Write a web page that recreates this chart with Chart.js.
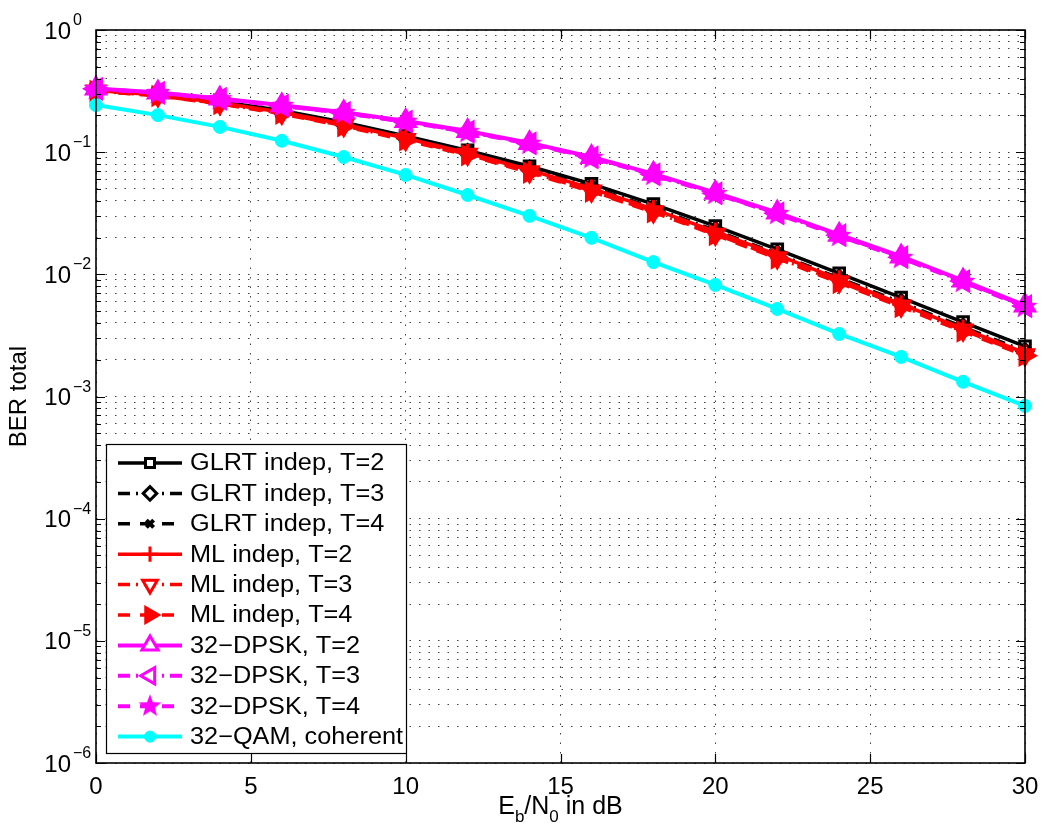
<!DOCTYPE html>
<html>
<head>
<meta charset="utf-8">
<script src="https://cdn.jsdelivr.net/npm/chart.js@4"></script>
<style>
  body { margin: 0; background: #fff; }
</style>
</head>
<body>
<canvas id="berChart" width="1050" height="838"></canvas>
<script>
// Eb/N0 points (dB)
const ebn0 = [0, 2, 4, 6, 8, 10, 12, 14, 16, 18, 20, 22, 24, 26, 28, 30];

// BER curves
const glrtT2 = [0.323, 0.299, 0.260, 0.219, 0.176, 0.136, 0.1035, 0.0767, 0.055, 0.0376, 0.0248, 0.016, 0.0102, 0.00646, 0.00407, 0.00257];
const glrtT3 = [0.320, 0.295, 0.255, 0.213, 0.170, 0.131, 0.099, 0.0725, 0.0515, 0.035, 0.0229, 0.0147, 0.0093, 0.0059, 0.0037, 0.00234];
const glrtT4 = [0.318, 0.292, 0.252, 0.210, 0.167, 0.128, 0.097, 0.0705, 0.0497, 0.0337, 0.022, 0.0141, 0.0089, 0.0056, 0.00355, 0.00224];
const mlT2 = [0.320, 0.294, 0.254, 0.212, 0.169, 0.130, 0.0985, 0.0715, 0.0505, 0.0342, 0.0224, 0.0144, 0.0091, 0.0057, 0.0036, 0.00228];
const mlT3 = [0.317, 0.290, 0.250, 0.208, 0.165, 0.127, 0.096, 0.069, 0.0482, 0.0326, 0.0213, 0.0137, 0.0087, 0.0055, 0.0035, 0.0022];
const mlT4 = [0.316, 0.288, 0.248, 0.206, 0.163, 0.125, 0.0945, 0.068, 0.0475, 0.0322, 0.021, 0.0135, 0.0085, 0.0054, 0.0034, 0.00216];
const dpskT2 = [0.332, 0.308, 0.275, 0.242, 0.212, 0.180, 0.149, 0.119, 0.0915, 0.0665, 0.0466, 0.032, 0.0211, 0.014, 0.0089, 0.00557];
const dpskT3 = [0.330, 0.306, 0.273, 0.240, 0.210, 0.178, 0.147, 0.118, 0.0905, 0.0658, 0.046, 0.0316, 0.0209, 0.0138, 0.0088, 0.0055];
const dpskT4 = [0.329, 0.305, 0.272, 0.239, 0.209, 0.177, 0.146, 0.117, 0.0897, 0.0651, 0.0455, 0.0312, 0.0206, 0.0136, 0.00867, 0.00541];
const qamCoherent = [0.243, 0.201, 0.161, 0.124, 0.0913, 0.0651, 0.0446, 0.0301, 0.0199, 0.0126, 0.00819, 0.00521, 0.00325, 0.00211, 0.00132, 0.000838];

const seriesLabels = [
    'GLRT indep, T=2', 'GLRT indep, T=3', 'GLRT indep, T=4',
    'ML indep, T=2', 'ML indep, T=3', 'ML indep, T=4',
    '32\u2212DPSK, T=2', '32\u2212DPSK, T=3', '32\u2212DPSK, T=4',
    '32\u2212QAM, coherent'
];

// axis ticks
const xTickValues = [0, 5, 10, 15, 20, 25, 30];
const yExponents = [-6, -5, -4, -3, -2, -1, 0];
const yMantissas = [1, 2, 3, 4, 5, 6, 7, 8, 9];

const FONT = '"Liberation Sans", Arial, Helvetica, sans-serif';
const SOLID = [];
const DASHDOT = [12, 6, 2, 6];
const DASHED = [12, 10];

// filled pentagram used for the T=4 DPSK marker
function makeStar(color, r) {
    const c = document.createElement('canvas');
    const size = Math.ceil(r * 2 + 2);
    c.width = size;
    c.height = size;
    const g = c.getContext('2d');
    g.fillStyle = color;
    g.beginPath();
    for (let i = 0; i < 10; i++) {
        const rad = i % 2 === 0 ? r : r * 0.42;
        const a = -Math.PI / 2 + i * Math.PI / 5;
        const px = size / 2 + rad * Math.cos(a);
        const py = size / 2 + rad * Math.sin(a);
        if (i === 0) g.moveTo(px, py); else g.lineTo(px, py);
    }
    g.closePath();
    g.fill();
    return c;
}
const starMarker = makeStar('#ff00ff', 13);
const starLegend = makeStar('#ff00ff', 12);

// one entry per curve: data, colour, dash, marker
const seriesStyles = [
    { data: glrtT2, color: '#000000', dash: SOLID, lw: 3.5, style: 'rect', radius: 7.5, bw: 3, rot: 0, filled: false },
    { data: glrtT3, color: '#000000', dash: DASHDOT, lw: 3.5, style: 'rectRot', radius: 8, bw: 3, rot: 0, filled: false },
    { data: glrtT4, color: '#000000', dash: DASHED, lw: 3.5, style: 'crossRot', radius: 6, bw: 4, rot: 0, filled: true },
    { data: mlT2, color: '#ff0000', dash: SOLID, lw: 3.5, style: 'cross', radius: 9, bw: 3, rot: 0, filled: true },
    { data: mlT3, color: '#ff0000', dash: DASHDOT, lw: 3.5, style: 'triangle', radius: 10, bw: 3, rot: 180, filled: false },
    { data: mlT4, color: '#ff0000', dash: DASHED, lw: 3.5, style: 'triangle', radius: 10, bw: 3, rot: 90, filled: true },
    { data: dpskT2, color: '#ff00ff', dash: SOLID, lw: 4, style: 'triangle', radius: 11, bw: 3, rot: 0, filled: false },
    { data: dpskT3, color: '#ff00ff', dash: DASHDOT, lw: 4, style: 'triangle', radius: 11, bw: 3, rot: 270, filled: false },
    { data: dpskT4, color: '#ff00ff', dash: DASHED, lw: 4, style: starMarker, radius: 13, bw: 0, rot: 0, filled: true },
    { data: qamCoherent, color: '#00ffff', dash: SOLID, lw: 4, style: 'circle', radius: 6.5, bw: 1, rot: 0, filled: true }
];

const datasets = seriesStyles.map((s, i) => ({
    label: seriesLabels[i],
    data: ebn0.map((x, k) => ({ x: x, y: s.data[k] })),
    borderColor: s.color,
    borderWidth: s.lw,
    borderDash: s.dash,
    pointStyle: s.style,
    pointRadius: s.radius,
    pointRotation: s.rot,
    pointBorderWidth: s.bw,
    pointBorderColor: s.color,
    pointBackgroundColor: s.filled ? s.color : 'rgba(0,0,0,0)',
    pointHoverRadius: s.radius,
    tension: 0,
    fill: false,
    clip: false,
    order: seriesStyles.length - i // later curves on top, like matlab
}));

// box, inward ticks, tick labels with exponents, axis titles, legend
const matlabFrame = {
    id: 'matlabFrame',
    afterDraw(chart) {
        const { ctx, chartArea: a, scales: { x, y } } = chart;
        ctx.save();
        ctx.setLineDash([]);
        ctx.strokeStyle = '#000';
        ctx.fillStyle = '#000';

        // inward ticks
        ctx.lineWidth = 1.2;
        ctx.beginPath();
        xTickValues.forEach(v => {
            const px = Math.round(x.getPixelForValue(v)) + 0.5;
            ctx.moveTo(px, a.bottom); ctx.lineTo(px, a.bottom - 9);
            ctx.moveTo(px, a.top); ctx.lineTo(px, a.top + 9);
        });
        y.ticks.forEach(t => {
            const py = Math.round(y.getPixelForValue(t.value)) + 0.5;
            const major = Math.abs(Math.log10(t.value) - Math.round(Math.log10(t.value))) < 1e-9;
            const len = major ? 9 : 5;
            ctx.moveTo(a.left, py); ctx.lineTo(a.left + len, py);
            ctx.moveTo(a.right, py); ctx.lineTo(a.right - len, py);
        });
        ctx.stroke();

        // box
        ctx.lineWidth = 1.6;
        ctx.strokeRect(a.left, a.top, a.right - a.left, a.bottom - a.top);

        // y tick labels 10^e
        yExponents.forEach(e => {
            const py = y.getPixelForValue(Math.pow(10, e));
            ctx.font = '24px ' + FONT;
            ctx.textAlign = 'right';
            ctx.textBaseline = 'alphabetic';
            ctx.fillText('10', 71, py + 8.5);
            ctx.font = '16px ' + FONT;
            ctx.textAlign = 'left';
            ctx.fillText(e === 0 ? '0' : '\u2212' + (-e), 73, py - 5);
        });

        // y title
        ctx.save();
        ctx.translate(19, (a.top + a.bottom) / 2);
        ctx.rotate(-Math.PI / 2);
        ctx.font = '24px ' + FONT;
        ctx.textAlign = 'center';
        ctx.textBaseline = 'middle';
        ctx.fillText('BER total', 0, 0);
        ctx.restore();

        // x title E_b/N_0 in dB
        const parts = [['E', 0], ['b', 1], ['/N', 0], ['0', 1], [' in dB', 0]];
        const big = '25px ' + FONT, small = '17px ' + FONT;
        let total = 0;
        parts.forEach(p => { ctx.font = p[1] ? small : big; total += ctx.measureText(p[0]).width; });
        let cx = (a.left + a.right) / 2 - total / 2;
        const base = 814;
        ctx.textAlign = 'left';
        ctx.textBaseline = 'alphabetic';
        parts.forEach(p => {
            ctx.font = p[1] ? small : big;
            ctx.fillText(p[0], cx, p[1] ? base + 8 : base);
            cx += ctx.measureText(p[0]).width;
        });

        // legend
        const lx = 106, ly = 444, lw = 300, lh = 309;
        ctx.fillStyle = '#fff';
        ctx.fillRect(lx, ly, lw, lh);
        ctx.lineWidth = 1.2;
        ctx.strokeStyle = '#000';
        ctx.strokeRect(lx + 0.5, ly + 0.5, lw, lh);
        const drawPoint = Chart.helpers && Chart.helpers.drawPoint;
        chart.data.datasets.forEach((ds, i) => {
            const s = seriesStyles[i];
            const ry = 463 + i * 30.4;
            ctx.strokeStyle = s.color;
            ctx.lineWidth = s.lw;
            ctx.setLineDash(s.dash);
            ctx.beginPath();
            ctx.moveTo(118, ry); ctx.lineTo(182, ry);
            ctx.stroke();
            ctx.setLineDash([]);
            if (drawPoint) {
                ctx.fillStyle = s.filled ? s.color : '#fff';
                ctx.strokeStyle = s.color;
                ctx.lineWidth = s.bw;
                const style = s.style === starMarker ? starLegend : s.style;
                drawPoint(ctx, { pointStyle: style, rotation: s.rot, radius: s.radius * 0.85, borderWidth: s.bw }, 150, ry);
            }
            // matlab legend text is a bit wider than it is tall
            ctx.save();
            ctx.translate(190, ry + 1);
            ctx.scale(1.1, 1);
            ctx.fillStyle = '#000';
            ctx.font = '23px ' + FONT;
            ctx.textAlign = 'left';
            ctx.textBaseline = 'middle';
            ctx.fillText(ds.label, 0, 0);
            ctx.restore();
        });
        ctx.restore();
    }
};

const yGridValues = [];
yExponents.forEach(e => {
    yMantissas.forEach(m => {
        const v = m * Math.pow(10, e);
        if (v <= 1.0000001) yGridValues.push(v);
    });
});

new Chart(document.getElementById('berChart').getContext('2d'), {
    type: 'line',
    data: { datasets: datasets },
    options: {
        responsive: false,
        animation: false,
        events: [],
        layout: { padding: { top: 30, right: 25, left: 0, bottom: 0 } },
        plugins: {
            legend: { display: false },
            title: { display: false },
            tooltip: { enabled: false }
        },
        scales: {
            x: {
                type: 'linear',
                min: 0,
                max: 30,
                afterBuildTicks: scale => { scale.ticks = xTickValues.map(v => ({ value: v })); },
                afterFit: scale => { scale.height = 75; },
                ticks: {
                    color: '#000',
                    font: { family: FONT, size: 24 },
                    padding: 10,
                    maxRotation: 0,
                    autoSkip: false
                },
                grid: { color: 'rgba(0,0,0,0.75)', lineWidth: 1, drawTicks: false },
                border: { display: false, dash: [1.5, 8] }
            },
            y: {
                type: 'logarithmic',
                min: 1e-6,
                max: 1,
                afterBuildTicks: scale => { scale.ticks = yGridValues.map(v => ({ value: v })); },
                afterFit: scale => { scale.width = 96; },
                ticks: { display: false },
                grid: { color: 'rgba(0,0,0,0.75)', lineWidth: 1, drawTicks: false },
                border: { display: false, dash: [1.5, 8] }
            }
        }
    },
    plugins: [matlabFrame]
});
</script>
</body>
</html>
